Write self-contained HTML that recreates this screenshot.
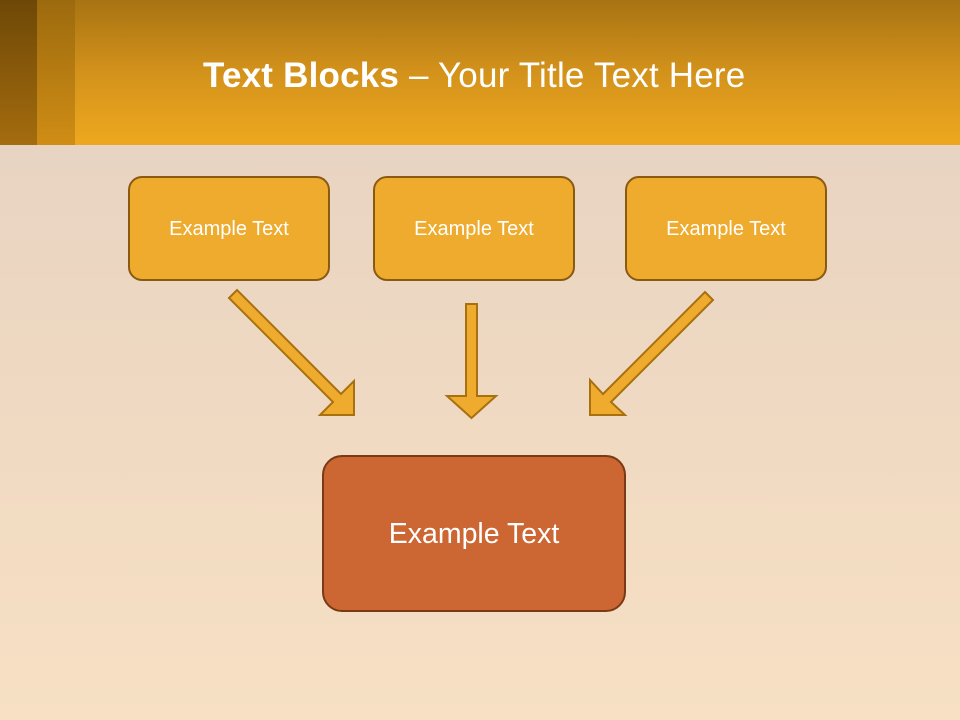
<!DOCTYPE html>
<html><head><meta charset="utf-8"><style>
html,body{margin:0;padding:0}
body{width:960px;height:720px;position:relative;overflow:hidden;font-family:"Liberation Sans",sans-serif;
background:linear-gradient(180deg,#e8d4c2 145px,#efd9c2 400px,#f7e0c3 720px)}
.hdr{position:absolute;left:0;top:0;width:960px;height:145px;background:linear-gradient(180deg,#a87313 0%,#d3921b 50%,#eea81f 100%)}
.s1{position:absolute;left:0;top:0;width:37px;height:145px;background:linear-gradient(180deg,#6e4807,#a46c0e)}
.s2{position:absolute;left:37px;top:0;width:38px;height:145px;background:linear-gradient(180deg,#9c6a0e,#d08d15)}
.title{position:absolute;left:203px;top:56px;font-size:35px;color:#fff;white-space:nowrap;letter-spacing:0.2px}
.box{position:absolute;box-sizing:border-box;border:2.5px solid #8a5a10;background:#eeab2e;border-radius:14px;color:#fff;display:flex;align-items:center;justify-content:center;font-size:20px;padding-top:2px}
.big{border-color:#7a3a15;background:#cc6633;border-radius:20px;font-size:28.5px}
</style></head><body>
<div class="hdr"></div><div class="s1"></div><div class="s2"></div>
<div class="title"><b>Text Blocks</b> – Your Title Text Here</div>
<div class="box" style="left:128px;top:176px;width:202px;height:105px">Example Text</div>
<div class="box" style="left:373px;top:176px;width:202px;height:105px">Example Text</div>
<div class="box" style="left:625px;top:176px;width:202px;height:105px">Example Text</div>
<div class="box big" style="left:322px;top:455px;width:304px;height:157px">Example Text</div>
<svg width="960" height="720" style="position:absolute;left:0;top:0">
<g fill="#eeab2e" stroke="#a8700f" stroke-width="2" stroke-linejoin="miter">
<polygon points="229,298 237,290 341,394 354,381 354,415 320,415 333,402"/>
<polygon points="466,304 477,304 477,396 496,396 471.5,418 447,396 466,396"/>
<polygon points="705,292 713,300 611,402 625,415 590,415 590,380 603,394"/>
</g></svg>
</body></html>
